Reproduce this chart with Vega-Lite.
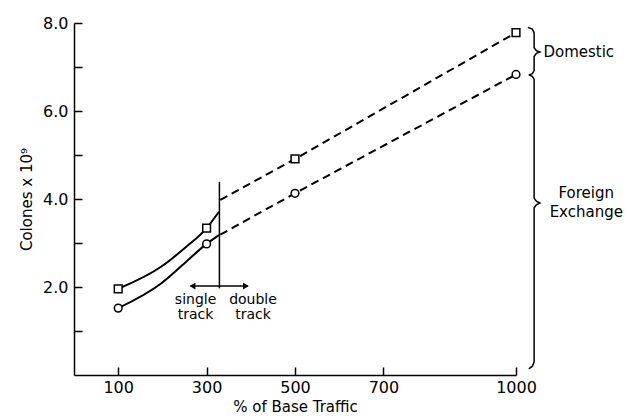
{
  "$schema": "https://vega.github.io/schema/vega-lite/v6.json",
  "width": 442,
  "height": 352,
  "autosize": {"type": "none"},
  "padding": {"left": 74, "top": 23, "right": 113, "bottom": 43},
  "background": "white",
  "config": {
    "view": {"stroke": null},
    "font": "DejaVu Sans",
    "axis": {"domainColor": "black", "tickColor": "black", "labelColor": "black", "titleColor": "black", "grid": false, "labelFont": "DejaVu Sans", "titleFont": "DejaVu Sans", "labelFontWeight": "normal", "titleFontWeight": "normal", "domainWidth": 1.5, "tickWidth": 1.5}
  },
  "datasets": {
    "solid": [
      {"traffic": 100, "colones": 1.96, "series": "Total"},
      {"traffic": 197, "colones": 2.46, "series": "Total"},
      {"traffic": 250, "colones": 2.88, "series": "Total"},
      {"traffic": 300, "colones": 3.34, "series": "Total"},
      {"traffic": 328, "colones": 3.71, "series": "Total"},
      {"traffic": 100, "colones": 1.52, "series": "Foreign"},
      {"traffic": 197, "colones": 2.08, "series": "Foreign"},
      {"traffic": 250, "colones": 2.54, "series": "Foreign"},
      {"traffic": 300, "colones": 2.98, "series": "Foreign"},
      {"traffic": 328, "colones": 3.18, "series": "Foreign"}
    ],
    "dashed": [
      {"traffic": 331, "colones": 3.98, "series": "Total"},
      {"traffic": 500, "colones": 4.91, "series": "Total"},
      {"traffic": 1000, "colones": 7.78, "series": "Total"},
      {"traffic": 331, "colones": 3.19, "series": "Foreign"},
      {"traffic": 500, "colones": 4.13, "series": "Foreign"},
      {"traffic": 1000, "colones": 6.83, "series": "Foreign"}
    ],
    "points": [
      {"traffic": 100, "colones": 1.96, "series": "Total"},
      {"traffic": 300, "colones": 3.34, "series": "Total"},
      {"traffic": 500, "colones": 4.91, "series": "Total"},
      {"traffic": 1000, "colones": 7.78, "series": "Total"},
      {"traffic": 100, "colones": 1.52, "series": "Foreign"},
      {"traffic": 300, "colones": 2.98, "series": "Foreign"},
      {"traffic": 500, "colones": 4.13, "series": "Foreign"},
      {"traffic": 1000, "colones": 6.83, "series": "Foreign"}
    ],
    "divider": [
      {"traffic": 329, "colones": 4.39},
      {"traffic": 329, "colones": 1.97}
    ],
    "arrow": [
      {"traffic": 264, "colones": 2.02},
      {"traffic": 393, "colones": 2.02}
    ],
    "headleft": [
      {"traffic": 268, "colones": 2.02}
    ],
    "headright": [
      {"traffic": 389, "colones": 2.02}
    ],
    "tracklabels": [
      {"traffic": 275, "colones": 1.7, "label": "single"},
      {"traffic": 275, "colones": 1.36, "label": "track"},
      {"traffic": 405, "colones": 1.7, "label": "double"},
      {"traffic": 405, "colones": 1.36, "label": "track"}
    ],
    "braces": [
      {"x": 1027, "y": 7.9, "brace": "Domestic", "k": 1},
      {"x": 1037, "y": 7.86, "brace": "Domestic", "k": 2},
      {"x": 1041, "y": 7.78, "brace": "Domestic", "k": 3},
      {"x": 1041, "y": 7.44, "brace": "Domestic", "k": 4},
      {"x": 1046, "y": 7.37, "brace": "Domestic", "k": 5},
      {"x": 1054, "y": 7.34, "brace": "Domestic", "k": 6},
      {"x": 1046, "y": 7.31, "brace": "Domestic", "k": 7},
      {"x": 1041, "y": 7.24, "brace": "Domestic", "k": 8},
      {"x": 1041, "y": 6.92, "brace": "Domestic", "k": 9},
      {"x": 1037, "y": 6.85, "brace": "Domestic", "k": 10},
      {"x": 1029, "y": 6.82, "brace": "Domestic", "k": 11},
      {"x": 1029, "y": 6.82, "brace": "Foreign", "k": 1},
      {"x": 1037, "y": 6.79, "brace": "Foreign", "k": 2},
      {"x": 1041, "y": 6.72, "brace": "Foreign", "k": 3},
      {"x": 1041, "y": 4.02, "brace": "Foreign", "k": 4},
      {"x": 1046, "y": 3.95, "brace": "Foreign", "k": 5},
      {"x": 1054, "y": 3.91, "brace": "Foreign", "k": 6},
      {"x": 1046, "y": 3.87, "brace": "Foreign", "k": 7},
      {"x": 1041, "y": 3.8, "brace": "Foreign", "k": 8},
      {"x": 1041, "y": 0.3, "brace": "Foreign", "k": 9},
      {"x": 1037, "y": 0.2, "brace": "Foreign", "k": 10},
      {"x": 1029, "y": 0.14, "brace": "Foreign", "k": 11}
    ],
    "domesticlabel": [
      {"x": 1062, "y": 7.34, "label": "Domestic"}
    ],
    "foreignlabel": [
      {"x": 1159, "y": 4.14, "label": "Foreign"},
      {"x": 1159, "y": 3.7, "label": "Exchange"}
    ]
  },
  "layer": [
    {
      "data": {"name": "solid"},
      "mark": {"type": "line", "color": "black", "strokeWidth": 2, "interpolate": "monotone"},
      "encoding": {
        "x": {"field": "traffic", "type": "quantitative", "scale": {"domain": [0, 1000], "nice": false, "zero": true},
          "axis": {"title": "% of Base Traffic", "values": [100, 300, 500, 700, 1000], "format": "d", "tickSize": -8, "labelPadding": 12, "labelFontSize": 16, "titleFontSize": 15, "titlePadding": 4, "labelFlush": false}},
        "y": {"field": "colones", "type": "quantitative", "scale": {"domain": [0, 8], "nice": false},
          "axis": {"title": "Colones x 10⁹", "values": [1, 2, 3, 4, 5, 6, 7, 8], "labelExpr": "datum.value % 2 == 0 ? format(datum.value, '.1f') : ''", "tickSize": -8, "labelPadding": 14, "labelFontSize": 16, "titleFontSize": 15, "titlePadding": 8, "labelFlush": false}},
        "detail": {"field": "series"}
      }
    },
    {
      "data": {"name": "dashed"},
      "mark": {"type": "line", "color": "black", "strokeWidth": 2, "strokeDash": [8, 5]},
      "encoding": {
        "x": {"field": "traffic", "type": "quantitative"},
        "y": {"field": "colones", "type": "quantitative"},
        "detail": {"field": "series"}
      }
    },
    {
      "data": {"name": "points"},
      "mark": {"type": "point", "filled": false, "fill": "white", "fillOpacity": 1, "stroke": "black", "strokeWidth": 1.5, "opacity": 1, "size": 60},
      "encoding": {
        "x": {"field": "traffic", "type": "quantitative"},
        "y": {"field": "colones", "type": "quantitative"},
        "shape": {"field": "series", "type": "nominal", "scale": {"domain": ["Total", "Foreign"], "range": ["square", "circle"]}, "legend": null}
      }
    },
    {
      "data": {"name": "divider"},
      "mark": {"type": "line", "color": "black", "strokeWidth": 1.5},
      "encoding": {
        "x": {"field": "traffic", "type": "quantitative"},
        "y": {"field": "colones", "type": "quantitative"}
      }
    },
    {
      "data": {"name": "arrow"},
      "mark": {"type": "line", "color": "black", "strokeWidth": 1.5},
      "encoding": {
        "x": {"field": "traffic", "type": "quantitative"},
        "y": {"field": "colones", "type": "quantitative"}
      }
    },
    {
      "data": {"name": "headleft"},
      "mark": {"type": "point", "filled": true, "color": "black", "opacity": 1, "size": 45, "shape": "triangle-left"},
      "encoding": {
        "x": {"field": "traffic", "type": "quantitative"},
        "y": {"field": "colones", "type": "quantitative"}
      }
    },
    {
      "data": {"name": "headright"},
      "mark": {"type": "point", "filled": true, "color": "black", "opacity": 1, "size": 45, "shape": "triangle-right"},
      "encoding": {
        "x": {"field": "traffic", "type": "quantitative"},
        "y": {"field": "colones", "type": "quantitative"}
      }
    },
    {
      "data": {"name": "tracklabels"},
      "mark": {"type": "text", "fontSize": 14, "color": "black", "align": "center", "baseline": "middle"},
      "encoding": {
        "x": {"field": "traffic", "type": "quantitative"},
        "y": {"field": "colones", "type": "quantitative"},
        "text": {"field": "label"}
      }
    },
    {
      "data": {"name": "braces"},
      "mark": {"type": "line", "color": "black", "strokeWidth": 1.5},
      "encoding": {
        "x": {"field": "x", "type": "quantitative"},
        "y": {"field": "y", "type": "quantitative"},
        "detail": {"field": "brace"},
        "order": {"field": "k", "type": "quantitative"}
      }
    },
    {
      "data": {"name": "domesticlabel"},
      "mark": {"type": "text", "fontSize": 15, "color": "black", "align": "left", "baseline": "middle"},
      "encoding": {
        "x": {"field": "x", "type": "quantitative"},
        "y": {"field": "y", "type": "quantitative"},
        "text": {"field": "label"}
      }
    },
    {
      "data": {"name": "foreignlabel"},
      "mark": {"type": "text", "fontSize": 15, "color": "black", "align": "center", "baseline": "middle"},
      "encoding": {
        "x": {"field": "x", "type": "quantitative"},
        "y": {"field": "y", "type": "quantitative"},
        "text": {"field": "label"}
      }
    }
  ]
}
